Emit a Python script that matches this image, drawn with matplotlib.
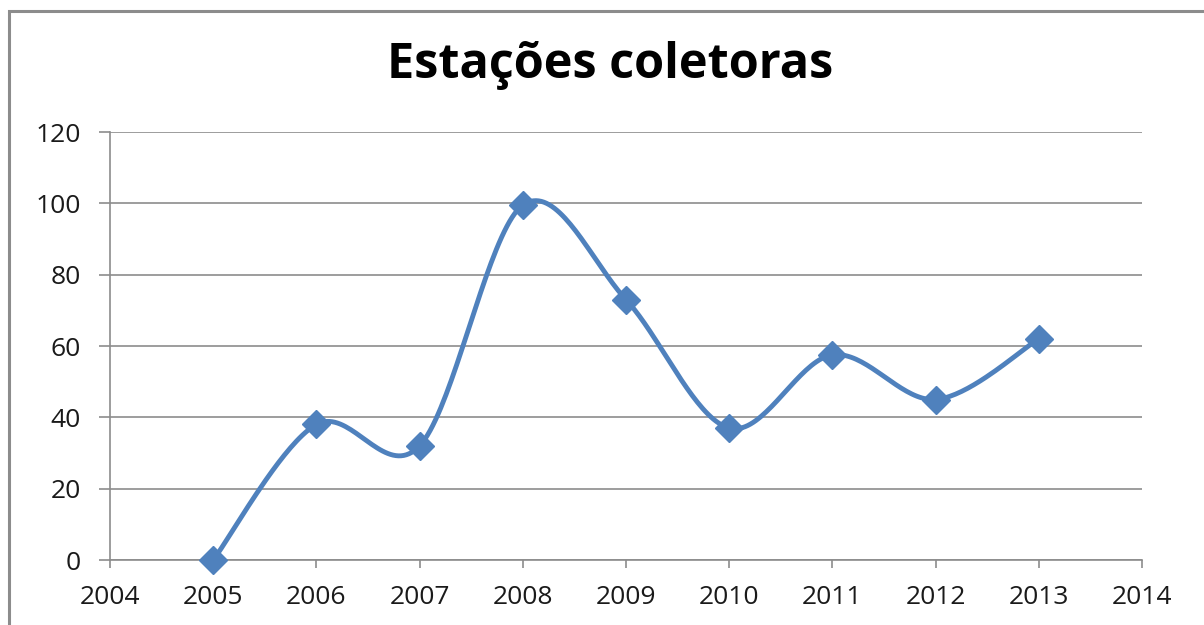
import numpy as np
import matplotlib.pyplot as plt
from matplotlib.patches import Rectangle

anos = [2005, 2006, 2007, 2008, 2009, 2010, 2011, 2012, 2013]
estacoes = [0, 38, 32, 99.5, 73, 37, 57.5, 45, 62]
titulo = 'Estações coletoras'

plt.rcParams['font.family'] = ['Open Sans', 'DejaVu Sans']


def suavizar(x, y, n=40):
    # curva suave tipo Excel (Catmull-Rom via Bezier)
    x = np.asarray(x, float)
    y = np.asarray(y, float)
    px = np.concatenate([[x[0]], x, [x[-1]]])
    py = np.concatenate([[y[0]], y, [y[-1]]])
    xs, ys = [], []
    t = np.linspace(0, 1, n)
    for i in range(1, len(px) - 2):
        p0 = np.array([px[i], py[i]])
        p3 = np.array([px[i + 1], py[i + 1]])
        p1 = p0 + (np.array([px[i + 1], py[i + 1]]) - np.array([px[i - 1], py[i - 1]])) / 6
        p2 = p3 - (np.array([px[i + 2], py[i + 2]]) - np.array([px[i], py[i]])) / 6
        b = ((1 - t) ** 3)[:, None] * p0 + (3 * (1 - t) ** 2 * t)[:, None] * p1 \
            + (3 * (1 - t) * t ** 2)[:, None] * p2 + (t ** 3)[:, None] * p3
        xs.extend(b[:, 0])
        ys.extend(b[:, 1])
    return np.array(xs), np.array(ys)


fig = plt.figure(figsize=(12.04, 6.25), dpi=100)
ax = fig.add_axes([110 / 1204, 1 - 560 / 625, (1142 - 110) / 1204, (560 - 132) / 625])

# moldura do grafico
fig.patches.append(Rectangle((9 / 1204, -0.1), 1.2, 1 - 11 / 625 + 0.1,
                             transform=fig.transFigure, fill=False,
                             edgecolor='#8c8c8c', linewidth=2.2))

cor = '#4f81bd'
xs, ys = suavizar(anos, estacoes)
ax.plot(xs, ys, color=cor, linewidth=3.5, solid_capstyle='round', zorder=3)
ax.plot(anos, estacoes, linestyle='none', marker='D', markersize=14,
        color=cor, zorder=4, clip_on=False)

ax.set_xlim(2004, 2014)
ax.set_ylim(0, 120)
ax.set_xticks(range(2004, 2015, 1))
ax.set_yticks(range(0, 121, 20))
ax.grid(axis='y', color='#8c8c8c', linewidth=1.2)
ax.set_axisbelow(True)
for s in ['top', 'right']:
    ax.spines[s].set_visible(False)
for s in ['left', 'bottom']:
    ax.spines[s].set_color('#8c8c8c')
    ax.spines[s].set_linewidth(1.2)
ax.tick_params(axis='x', direction='out', length=6, width=1.2, color='#8c8c8c',
               labelsize=19, labelcolor='#1a1a1a', pad=12)
ax.tick_params(axis='y', direction='out', length=8, width=1.2, color='#8c8c8c',
               labelsize=19, labelcolor='#1a1a1a', pad=13)

fig.text(610 / 1204, 1 - 66 / 625, titulo, ha='center', va='center',
         fontsize=35, fontweight='bold', color='black')

fig.savefig('out.png', dpi=100)
